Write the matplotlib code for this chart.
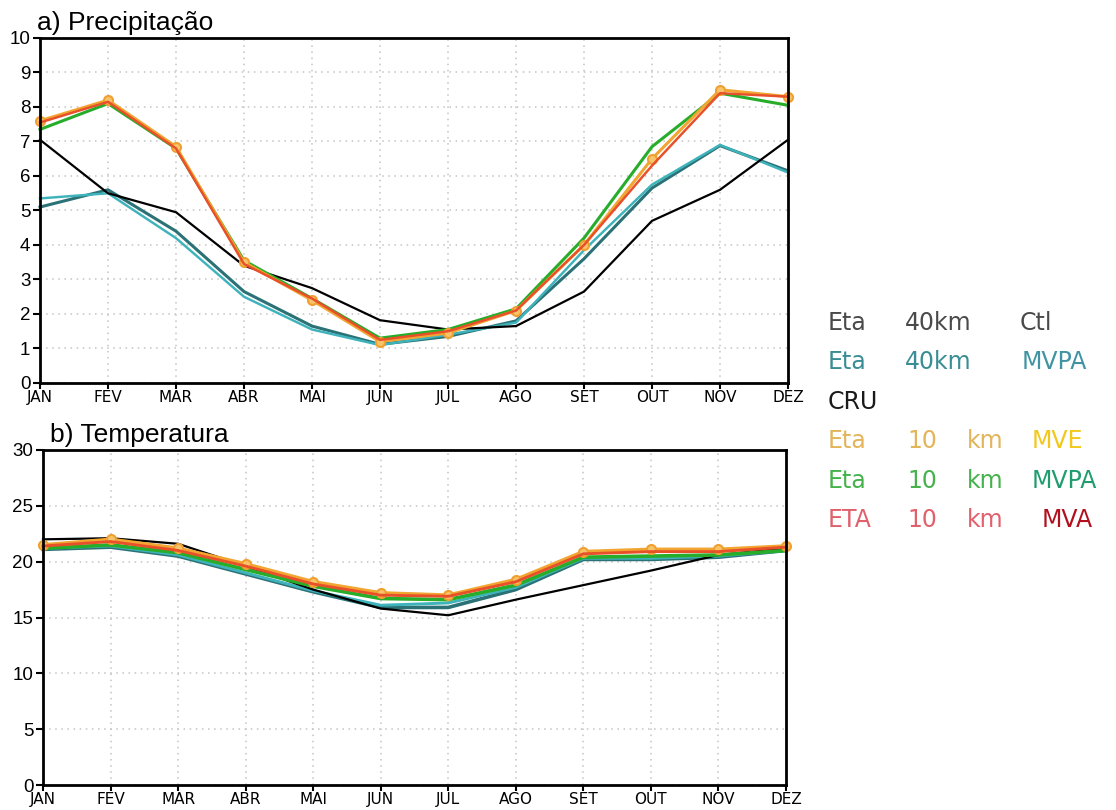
import matplotlib
matplotlib.use("Agg")
import matplotlib.pyplot as plt

months = ["JAN", "FEV", "MAR", "ABR", "MAI", "JUN", "JUL", "AGO", "SET", "OUT", "NOV", "DEZ"]

# Precipitation (mm/day)
pr_eta40_ctl = [5.1, 5.6, 4.4, 2.65, 1.65, 1.12, 1.35, 1.8, 3.6, 5.65, 6.88, 6.15]
pr_eta40_mvpa = [5.35, 5.5, 4.2, 2.5, 1.55, 1.1, 1.4, 1.75, 3.85, 5.75, 6.9, 6.1]
pr_cru = [7.05, 5.5, 4.95, 3.4, 2.75, 1.82, 1.55, 1.65, 2.65, 4.7, 5.6, 7.05]
pr_eta10_mve = [7.6, 8.2, 6.85, 3.5, 2.4, 1.2, 1.45, 2.1, 4.0, 6.5, 8.5, 8.3]
pr_eta10_mvpa = [7.35, 8.1, 6.8, 3.55, 2.45, 1.3, 1.55, 2.15, 4.2, 6.85, 8.4, 8.05]
pr_eta10_mva = [7.55, 8.15, 6.8, 3.45, 2.45, 1.25, 1.5, 2.1, 4.0, 6.3, 8.4, 8.3]

# Temperature (C)
tp_eta40_ctl = [21.1, 21.3, 20.5, 18.9, 17.3, 15.9, 15.9, 17.5, 20.2, 20.2, 20.4, 21.0]
tp_eta40_mvpa = [21.2, 21.4, 20.6, 19.0, 17.4, 16.1, 16.3, 17.7, 20.3, 20.3, 20.5, 21.0]
tp_cru = [22.0, 22.1, 21.6, 19.6, 17.5, 15.8, 15.2, 16.6, 17.9, 19.2, 20.6, 21.2]
tp_eta10_mve = [21.5, 22.0, 21.2, 19.8, 18.2, 17.2, 17.0, 18.4, 20.9, 21.1, 21.1, 21.4]
tp_eta10_mvpa = [21.2, 21.5, 20.8, 19.3, 17.8, 16.7, 16.6, 17.9, 20.4, 20.5, 20.6, 21.0]
tp_eta10_mva = [21.4, 21.8, 21.0, 19.6, 18.0, 17.0, 16.9, 18.2, 20.7, 20.9, 20.9, 21.3]

C_CTL = "#2a7276"
C_MVPA40 = "#3fb3bb"
C_CRU = "#000000"
C_MVE = "#f2a531"
C_MVPA10 = "#27ad2a"
C_MVA = "#e8502a"

W, H = 1116, 810
fig = plt.figure(figsize=(W / 100, H / 100), dpi=100)
fig.patch.set_facecolor("white")

def px_axes(l, t, r, b):
    return fig.add_axes([l / W, 1 - b / H, (r - l) / W, (b - t) / H])

ax1 = px_axes(40, 38, 788, 383)
ax2 = px_axes(43, 450, 786, 785)

x = list(range(len(months)))
tick_font = ["Liberation Sans Narrow", "DejaVu Sans"]

def style(ax, ymax, ystep):
    ax.set_xlim(0, 11)
    ax.set_ylim(0, ymax)
    ax.set_xticks(x)
    ax.set_xticklabels(months, family=tick_font, fontsize=11)
    ax.set_yticks(range(0, ymax + 1, ystep))
    ax.tick_params(axis="y", labelsize=13.5, length=5, width=1.5, direction="out", pad=2)
    ax.tick_params(axis="x", length=4, width=1.5, direction="out", pad=1)
    for lab in ax.get_yticklabels():
        lab.set_family(["Liberation Sans", "DejaVu Sans"])
    ax.grid(True, color="#c4c4c4", linestyle=(0, (1, 3)), linewidth=1.1)
    ax.set_axisbelow(True)
    for s in ax.spines.values():
        s.set_linewidth(2)
        s.set_color("black")
        s.set_zorder(10)

def draw(ax, ctl, mvpa40, cru, mve, mvpa10, mva, lw):
    ax.plot(x, ctl, color=C_CTL, lw=lw, zorder=3, clip_on=False)
    ax.plot(x, mvpa40, color=C_MVPA40, lw=lw * 0.8, zorder=3, clip_on=False)
    ax.plot(x, cru, color=C_CRU, lw=1.6, zorder=4, clip_on=False)
    ax.plot(x, mvpa10, color=C_MVPA10, lw=lw, zorder=5, clip_on=False)
    ax.plot(x, mve, color=C_MVE, lw=lw, zorder=6, marker="o", markersize=6.5,
            markerfacecolor="#f7c46a", markeredgecolor="#f0a030", markeredgewidth=1.5,
            clip_on=False)
    ax.plot(x, mva, color=C_MVA, lw=lw * 0.8, zorder=7, clip_on=False)

style(ax1, 10, 1)
draw(ax1, pr_eta40_ctl, pr_eta40_mvpa, pr_cru, pr_eta10_mve, pr_eta10_mvpa, pr_eta10_mva, 2.2)
style(ax2, 30, 5)
draw(ax2, tp_eta40_ctl, tp_eta40_mvpa, tp_cru, tp_eta10_mve, tp_eta10_mvpa, tp_eta10_mva, 2.6)

title_font = ["Liberation Sans", "DejaVu Sans"]
fig.text(37 / W, 1 - 30 / H, "a) Precipitação", fontsize=19, family=title_font,
         ha="left", va="baseline")
fig.text(50 / W, 1 - 442 / H, "b) Temperatura", fontsize=19, family=title_font,
         ha="left", va="baseline")

# Legend (coloured text)
leg_font = ["DejaVu Sans"]
fs = 17
rows = [
    (323, [("Eta", 828, "#4a4a4a"), ("40km", 905, "#4a4a4a"), ("Ctl", 1020, "#4a4a4a")]),
    (362, [("Eta", 828, "#3a8d94"), ("40km", 905, "#3a8d94"), ("MVPA", 1022, "#3f93a3")]),
    (402, [("CRU", 828, "#1a1a1a")]),
    (441, [("Eta", 828, "#e3b45a"), ("10", 907, "#e3b45a"), ("km", 967, "#e3b45a"), ("MVE", 1032, "#f2c81a")]),
    (481, [("Eta", 828, "#45b24c"), ("10", 907, "#45b24c"), ("km", 967, "#45b24c"), ("MVPA", 1032, "#1f9d6e")]),
    (520, [("ETA", 828, "#e0606c"), ("10", 907, "#e0606c"), ("km", 967, "#e0606c"), ("MVA", 1042, "#b3101e")]),
]
for yc, words in rows:
    for txt, xp, col in words:
        fig.text(xp / W, 1 - yc / H, txt, fontsize=fs, family=leg_font, color=col,
                 ha="left", va="center")

fig.savefig("out.png", dpi=100, facecolor="white")
